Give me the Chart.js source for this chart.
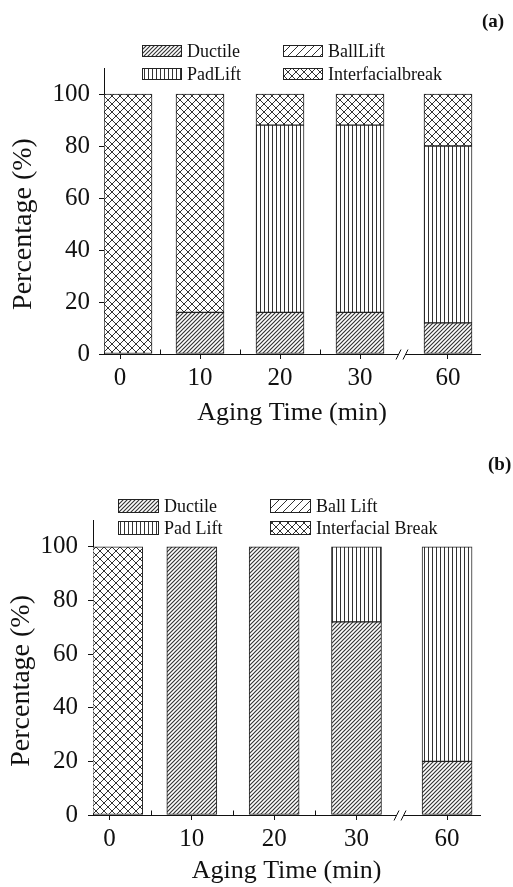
<!DOCTYPE html>
<html>
<head>
<meta charset="utf-8">
<script src="https://cdn.jsdelivr.net/npm/chart.js@4.4.1/dist/chart.umd.min.js"></script>
<style>
  body { margin: 0; background: #fff; }
  #wrap { position: relative; width: 513px; height: 887px; }
  canvas { position: absolute; left: 0; }
  .tag { position: absolute; font: bold 19px "Liberation Serif", "Times New Roman", serif; color: #111; line-height: 1; }
</style>
</head>
<body>
<div id="wrap">
  <canvas id="chartA" width="513" height="443" style="top:0"></canvas>
  <canvas id="chartB" width="513" height="444" style="top:443px"></canvas>
  <div class="tag" style="left:482px; top:11px">(a)</div>
  <div class="tag" style="left:488px; top:454px">(b)</div>
</div>
<script>
// aging times and where they sit on the (broken) x axis
const agingLabels = ['0', '10', '20', '30', '60'];
const tickSlots = [0, 1, 2, 3, 4.1];
const barSlots = [0.1, 1, 2, 3, 4.1];
const minorSlots = [0.5, 1.5, 2.5];
const breakSlot = 3.53;

// failure modes, percentages per aging time - panel (a)
const namesA = ['Ductile', 'BallLift', 'PadLift', 'Interfacialbreak'];
const ductileA = [null, 16, 16, 16, 12];
const ballLiftA = [null, null, null, null, null];
const padLiftA = [null, null, 72, 72, 68];
const interfacialA = [100, 84, 12, 12, 20];

// panel (b)
const namesB = ['Ductile', 'Ball Lift', 'Pad Lift', 'Interfacial Break'];
const ductileB = [null, 100, 100, 72, 20];
const ballLiftB = [null, null, null, null, null];
const padLiftB = [null, null, null, 28, 80];
const interfacialB = [100, null, null, null, null];

const yMax = 110;
const yStep = 10;

const serif = '"Liberation Serif", "Times New Roman", serif';
const ink = '#111';

// hatch fills built from small tiles
function makePattern(ctx, kind) {
  const size = { ductile: 4, ball: 8, pad: 4, cross: 8 }[kind];
  const tile = document.createElement('canvas');
  tile.width = size;
  tile.height = size;
  const g = tile.getContext('2d');
  g.fillStyle = '#fff';
  g.fillRect(0, 0, size, size);
  g.strokeStyle = '#333';
  g.lineWidth = kind === 'ductile' ? 1.15 : 1;
  g.beginPath();
  if (kind === 'pad') {
    g.moveTo(0.5, 0); g.lineTo(0.5, size);
  } else {
    g.moveTo(0, size); g.lineTo(size, 0);
    g.moveTo(-1, 1); g.lineTo(1, -1);
    g.moveTo(size - 1, size + 1); g.lineTo(size + 1, size - 1);
    if (kind === 'cross') {
      g.moveTo(0, 0); g.lineTo(size, size);
      g.moveTo(-1, size - 1); g.lineTo(1, size + 1);
      g.moveTo(size - 1, -1); g.lineTo(size + 1, 1);
    }
  }
  g.stroke();
  return ctx.createPattern(tile, 'repeat');
}

// two-column legend with hatched swatches
const patternLegend = {
  id: 'patternLegend',
  afterDraw(chart, args, opts) {
    const ctx = chart.ctx;
    ctx.save();
    ctx.font = opts.fontSize + 'px ' + serif;
    ctx.textBaseline = 'middle';
    chart.data.datasets.forEach((ds, i) => {
      const x = opts.cols[i % 2];
      const y = opts.rows[Math.floor(i / 2)];
      const top = Math.round(y - opts.boxH / 2);
      ctx.fillStyle = ds.backgroundColor;
      ctx.fillRect(x, top, opts.boxW, opts.boxH);
      ctx.strokeStyle = '#222';
      ctx.lineWidth = 1;
      ctx.strokeRect(x + 0.5, top + 0.5, opts.boxW - 1, opts.boxH - 1);
      ctx.fillStyle = ink;
      ctx.fillText(ds.label, x + opts.boxW + opts.gap, y + 1);
    });
    ctx.restore();
  }
};

// inward minor ticks, the axis break and the y title
const axisExtras = {
  id: 'axisExtras',
  afterDraw(chart, args, opts) {
    const { ctx, scales: { x, y } } = chart;
    const base = Math.round(y.getPixelForValue(0)) + 0.5;
    ctx.save();
    ctx.strokeStyle = ink;
    ctx.lineWidth = 1;
    minorSlots.forEach(v => {
      const px = Math.round(x.getPixelForValue(v)) + 0.5;
      ctx.beginPath();
      ctx.moveTo(px, base);
      ctx.lineTo(px, base - 5);
      ctx.stroke();
    });
    const bx = Math.round(x.getPixelForValue(breakSlot));
    ctx.fillStyle = '#fff';
    ctx.fillRect(bx - 3, base - 2, 6, 4);
    ctx.beginPath();
    ctx.moveTo(bx - 6, base + 5); ctx.lineTo(bx - 1, base - 5);
    ctx.moveTo(bx + 1, base + 5); ctx.lineTo(bx + 6, base - 5);
    ctx.stroke();

    ctx.translate(opts.titleX, y.getPixelForValue(50));
    ctx.rotate(-Math.PI / 2);
    ctx.font = opts.titleSize + 'px ' + serif;
    ctx.fillStyle = ink;
    ctx.textAlign = 'center';
    ctx.textBaseline = 'middle';
    ctx.fillText('Percentage (%)', 0, 0);
    ctx.restore();
  }
};

function points(values) {
  return values.map((v, i) => ({ x: barSlots[i], y: v }));
}

function makeChart(id, names, series, look) {
  const canvas = document.getElementById(id);
  const ctx = canvas.getContext('2d');
  const fills = ['ductile', 'ball', 'pad', 'cross'].map(k => makePattern(ctx, k));
  const datasets = series.map((values, i) => ({
    label: names[i],
    data: points(values),
    backgroundColor: fills[i],
    borderColor: '#222',
    borderWidth: 1,
    borderSkipped: false,
    barThickness: look.barWidth
  }));

  return new Chart(ctx, {
    type: 'bar',
    data: { datasets },
    plugins: [patternLegend, axisExtras],
    options: {
      responsive: false,
      animation: false,
      events: [],
      layout: { padding: { left: 0, right: 33, top: look.top, bottom: look.bottomPad } },
      plugins: {
        legend: { display: false },
        tooltip: { enabled: false },
        patternLegend: look.legend,
        axisExtras: { titleX: look.yTitleX, titleSize: 28 }
      },
      scales: {
        x: {
          type: 'linear',
          stacked: true,
          offset: false,
          min: -0.2,
          max: 4.5,
          afterBuildTicks: s => { s.ticks = tickSlots.map(v => ({ value: v })); },
          afterFit: s => { s.height = look.xHeight; },
          grid: { offset: false, drawOnChartArea: false, drawTicks: true, tickLength: 5, color: ink },
          border: { color: ink, width: 1 },
          ticks: {
            autoSkip: false,
            maxRotation: 0,
            padding: 4,
            color: ink,
            font: { family: serif, size: 25 },
            callback: v => agingLabels[tickSlots.indexOf(v)]
          },
          title: {
            display: true,
            text: 'Aging Time (min)',
            color: ink,
            font: { family: serif, size: 26 },
            padding: { top: 0, bottom: 0 }
          }
        },
        y: {
          stacked: true,
          min: 0,
          max: yMax,
          afterFit: s => { s.width = look.yWidth; },
          grid: { drawOnChartArea: false, drawTicks: true, tickLength: 5, color: ink },
          border: { color: ink, width: 1 },
          ticks: {
            stepSize: yStep,
            padding: look.yPad,
            color: ink,
            font: { family: serif, size: 25 },
            callback: v => (v % 20 === 0 && v <= 100 ? v : '')
          }
        }
      }
    }
  });
}

makeChart('chartA', namesA, [ductileA, ballLiftA, padLiftA, interfacialA], {
  top: 68, bottomPad: 14, xHeight: 75, yWidth: 104, yPad: 9, yTitleX: 24, barWidth: 48,
  legend: { cols: [142, 283], rows: [51, 74], boxW: 40, boxH: 12, gap: 5, fontSize: 18 }
});

makeChart('chartB', namesB, [ductileB, ballLiftB, padLiftB, interfacialB], {
  top: 77, bottomPad: 0, xHeight: 72, yWidth: 93, yPad: 10, yTitleX: 22, barWidth: 50,
  legend: { cols: [118, 270], rows: [63, 85], boxW: 41, boxH: 14, gap: 5, fontSize: 18 }
});
</script>
</body>
</html>
